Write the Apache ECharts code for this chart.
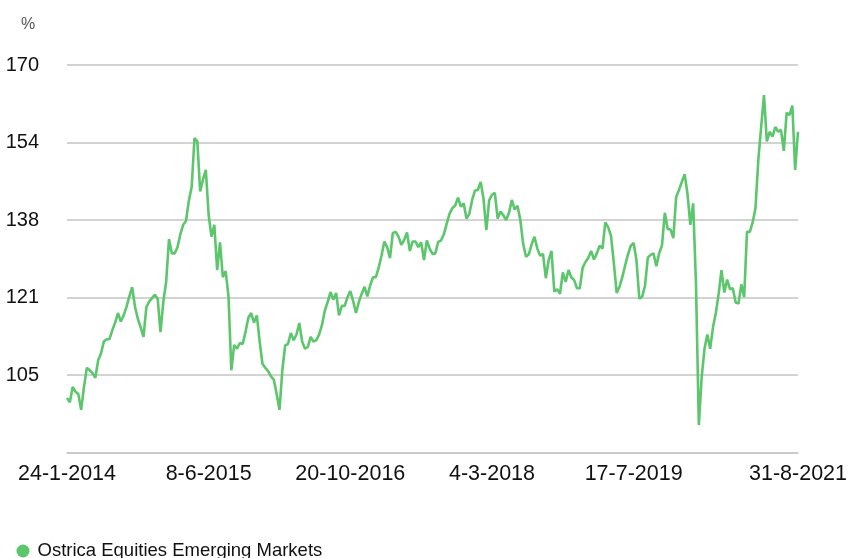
<!DOCTYPE html>
<html>
<head>
<meta charset="utf-8">
<script src="https://cdn.jsdelivr.net/npm/echarts@6/dist/echarts.min.js"></script>
<style>html,body{margin:0;padding:0;background:#fff}#c{width:850px;height:558px}</style>
</head>
<body>
<div id="c"></div>
<script>
const seriesName = 'Ostrica Equities Emerging Markets';
const tickLabels = ['24-1-2014', '8-6-2015', '20-10-2016', '4-3-2018', '17-7-2019', '31-8-2021'];
const startDate = '2014-01-24';
const endDate = '2021-08-31';
const yTicks = [88.75, 105, 121.25, 137.5, 153.75, 170];
const values = [
100.2, 99.3, 102.5, 101.5, 101, 97.7, 102.5, 106.5, 106, 105.4,
104.4, 108.1, 109.5, 112, 112.5, 112.5, 114.4, 116, 118, 116.2,
117.5, 119.3, 121.5, 123.4, 119.3, 116.8, 115, 113, 119.2, 120.4,
121.1, 121.8, 121, 114, 120.4, 124.5, 133.5, 130.5, 130.5, 131.8,
134.5, 136.5, 137.3, 141.5, 144.4, 154.7, 154, 143.5, 146, 148,
138.5, 134, 136.5, 127, 132.8, 125.5, 126.8, 121.5, 106, 111.3,
110.5, 111.7, 111.5, 114, 117, 118, 116, 117.5, 112, 107.3,
106.5, 105.8, 104.7, 104, 101, 97.7, 106, 111.2, 111.5, 113.8,
112.3, 113.5, 115.9, 112, 110.5, 110.9, 113, 112, 112.3, 113.5,
115.5, 118.5, 120.3, 122.4, 120.8, 122.2, 117.5, 119.5, 119.5, 121.3,
122.6, 120.5, 118, 120.3, 122, 123.5, 121.5, 123.8, 125.5, 125.5,
127.5, 130, 133, 131.8, 129.5, 134.8, 135, 134, 132.3, 133.3,
134.9, 131, 133, 133, 131.8, 132.8, 129.1, 133.2, 131.5, 130.4,
130.5, 132.9, 133.2, 134.5, 136.7, 138.8, 140, 140.5, 142.2, 140.3,
141, 137.8, 138.8, 141.7, 143.7, 143.8, 145.5, 142, 135.4, 141.6,
142.8, 143.2, 137.8, 139.3, 138.5, 137.5, 139, 141.7, 139.7, 140.5,
137.5, 132.5, 129.8, 130.3, 132.4, 134, 131.5, 130, 130.4, 125.3,
129.1, 131, 122.5, 123, 122, 126.5, 124.5, 127, 125.5, 124.9,
123.2, 123.2, 127.5, 128.7, 129.6, 131, 129.2, 130.5, 132.1, 131.5,
137, 136, 134.2, 128.5, 122.2, 123.5, 125.5, 128, 130.3, 132.1,
132.7, 129, 121, 121.4, 123.7, 129.6, 130.2, 130.5, 127.8, 130.5,
132.2, 139, 135.6, 135.5, 133.7, 142.3, 143.8, 145.5, 147.1, 143,
136.5, 141, 124, 94.5, 104.5, 110.5, 113.5, 110.5, 115, 118,
122, 127, 122.3, 125, 123, 123.2, 120.2, 120, 124, 121.3,
135, 135, 137, 140, 150.1, 157, 163.7, 154, 156, 155,
157, 156, 156.4, 152, 160, 159.5, 161.5, 148, 156
];

// Category dates: one every 10 days through 17-7-2019, then evenly spaced to the end date
function fmt(d) { return d.getUTCDate() + '-' + (d.getUTCMonth() + 1) + '-' + d.getUTCFullYear(); }
const dates = [];
const t0 = Date.parse(startDate + 'T00:00:00Z');
const tEnd = Date.parse(endDate + 'T00:00:00Z');
const day = 86400000;
const tMid = t0 + 2000 * day;
for (let i = 0; i < values.length; i++) {
  let t;
  if (i <= 200) t = t0 + i * 10 * day;
  else t = tMid + Math.round((tEnd - tMid) * (i - 200) / (values.length - 1 - 200) / day) * day;
  dates.push(fmt(new Date(t)));
}

const chart = echarts.init(document.getElementById('c'), null, {renderer: 'canvas'});
chart.setOption({
  animation: false,
  backgroundColor: '#fff',
  title: {
    text: '%', left: 16, top: 12,
    textStyle: {fontFamily: 'Liberation Sans, Arial, sans-serif', fontSize: 16, fontWeight: 'normal', color: '#555'}
  },
  grid: {left: 67, right: 50, top: 65, bottom: 105.5, containLabel: false},
  legend: {
    data: [seriesName], left: 11.5, top: 536.5, icon: 'circle', itemWidth: 13, itemHeight: 13, itemGap: 10,
    textStyle: {fontFamily: 'Liberation Sans, Arial, sans-serif', fontSize: 18.5, color: '#111', padding: [0, 0, 0, 3]}
  },
  xAxis: {
    type: 'category', data: dates, boundaryGap: false,
    axisLine: {show: true, lineStyle: {color: '#c8c8c8', width: 1.5}},
    axisTick: {show: false},
    axisLabel: {
      interval: (idx, val) => tickLabels.indexOf(val) >= 0,
      margin: 11, fontSize: 21.5, color: '#111', fontFamily: 'Liberation Sans, Arial, sans-serif'
    },
    splitLine: {show: false}
  },
  yAxis: {
    type: 'value', min: yTicks[0], max: yTicks[yTicks.length - 1], interval: yTicks[1] - yTicks[0],
    axisLine: {show: false}, axisTick: {show: false},
    axisLabel: {
      formatter: v => (Math.abs(v - yTicks[0]) < 1e-6 ? '' : String(Math.round(v))),
      margin: 28, fontSize: 20, color: '#111', fontFamily: 'Liberation Sans, Arial, sans-serif'
    },
    splitLine: {lineStyle: {color: '#c4c4c4', width: 1.5}}
  },
  series: [{
    name: seriesName, type: 'line', data: values, showSymbol: false, symbol: 'circle',
    lineStyle: {color: '#5cc66c', width: 2.6}, itemStyle: {color: '#5cc66c'}
  }]
});
</script>
</body>
</html>
